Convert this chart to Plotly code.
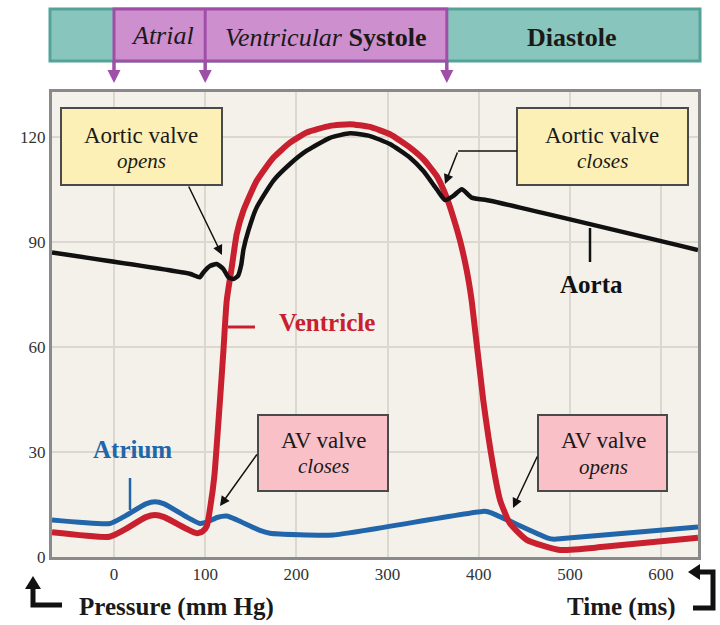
import plotly.graph_objects as go

# ---------------- data ----------------
aorta_t = [-68, 83, 94, 98, 105, 112.6, 119.9, 125.4, 130.9, 136, 139.5, 142, 147.3, 156.5, 174.7,
           193, 211.4, 236.9, 258.9, 280.8, 302.7, 324.7, 339.3, 353.9, 363, 372.2, 381.4, 392.3,
           412.4, 640.5]
aorta_p = [87.1, 81.0, 80.0, 81.4, 83.2, 83.8, 82.4, 80.0, 79.5, 80.4, 83.5, 88.0, 93.3, 100.0, 107.6,
           112.4, 116.2, 119.9, 121.2, 120.4, 118.1, 114.2, 110.4, 105.2, 102.1, 103.3, 105.2, 102.8,
           101.9, 87.8]

ventricle_t = [-68, -5, 10, 35, 45, 55, 80, 90.7, 97, 101.7, 106, 110, 116, 120, 123.6, 129.1,
               134.6, 141.8, 156.5, 174.7, 193, 211.4, 236.9, 258.9, 280.8, 302.7, 324.7, 339.3,
               353.9, 364.9, 372.2, 379.5, 386.9, 392.3, 405, 416, 423.4, 434, 452.6, 489, 537, 640.5]
ventricle_p = [7.1, 5.8, 7.6, 11.4, 12.0, 11.4, 8.0, 6.8, 7.3, 8.8, 15.0, 23.0, 44.0, 59.0, 73.3, 82.8,
               92.4, 99.0, 107.6, 114.2, 118.5, 121.4, 123.3, 123.8, 123.0, 120.9, 117.1, 113.8,
               109.0, 102.8, 97.1, 90.5, 81.9, 73.3, 44.8, 25.8, 16.3, 9.7, 4.9, 2.0, 2.9, 5.5]

atrium_t = [-68, -4.4, 10, 35, 45, 55, 80, 94.3, 104, 113, 123.6, 135, 160, 171, 240.5, 407, 415,
            475, 483, 492, 640.5]
atrium_p = [10.6, 9.6, 11.4, 15.2, 15.8, 15.2, 11.4, 9.6, 10.2, 11.3, 11.7, 10.6, 7.6, 6.8, 6.3, 13.1,
            12.5, 5.5, 5.1, 5.3, 8.6]

x_ticks = [0, 100, 200, 300, 400, 500, 600]
y_ticks = [0, 30, 60, 90, 120]

phase_times = [0, 100, 365]   # atrial systole start, ventricular systole start, diastole start

# ---------------- colours / fonts ----------------
RED = "#C9202F"
BLUE = "#2165AA"
BLACK = "#111111"
PURPLE = "#A04FA8"
PURPLE_FILL = "#CD8FCD"
TEAL = "#88C5BC"
TEAL_LINE = "#55A398"
YELLOW = "#FCF0B6"
PINK = "#F9C0C8"
FONT = "Liberation Serif"

# pixel helpers for decorative layout
L, R, T, B = 52, 698, 92, 557
W_, H_ = 720, 625
def PX(x):
    return (x - L) / (R - L)
def PY(y):
    return (B - y) / (B - T)

X_RANGE = [-68, 640.5]
def XPIX(t):
    return L + (t - X_RANGE[0]) / (X_RANGE[1] - X_RANGE[0]) * (R - L)

fig = go.Figure()
fig.add_trace(go.Scatter(x=atrium_t, y=atrium_p, mode="lines",
                         line=dict(color=BLUE, width=5, shape="spline", smoothing=0.5),
                         hoverinfo="skip"))
fig.add_trace(go.Scatter(x=ventricle_t, y=ventricle_p, mode="lines",
                         line=dict(color=RED, width=6, shape="spline", smoothing=0.5),
                         hoverinfo="skip"))
fig.add_trace(go.Scatter(x=aorta_t, y=aorta_p, mode="lines",
                         line=dict(color=BLACK, width=4.5, shape="spline", smoothing=0.5),
                         hoverinfo="skip"))

shapes = []
def rect(x0, y0, x1, y1, fill, line, lw=2):
    shapes.append(dict(type="rect", xref="paper", yref="paper",
                       x0=PX(x0), x1=PX(x1), y0=PY(y1), y1=PY(y0),
                       fillcolor=fill, line=dict(color=line, width=lw), layer="above"))
def seg(x0, y0, x1, y1, color, lw):
    shapes.append(dict(type="line", xref="paper", yref="paper",
                       x0=PX(x0), x1=PX(x1), y0=PY(y0), y1=PY(y1),
                       line=dict(color=color, width=lw), layer="above"))
def poly(pts, color, lw=0, fill=None):
    d = "M " + " L ".join(f"{PX(a):.5f},{PY(b):.5f}" for a, b in pts)
    if fill:
        d += " Z"
    shapes.append(dict(type="path", xref="paper", yref="paper", path=d,
                       fillcolor=fill if fill else "rgba(0,0,0,0)",
                       line=dict(color=color, width=lw), layer="above"))

# top phase bar
rect(50, 9, 700, 61, TEAL, TEAL_LINE, 3)
p0, p1, p2 = (XPIX(t) for t in phase_times)
rect(p0, 9, p2, 61, PURPLE_FILL, PURPLE, 3)
seg(p1, 9, p1, 61, PURPLE, 3)
for p in (p0, p1, p2):
    seg(p, 61, p, 72, PURPLE, 3.5)
    poly([(p - 6.5, 70), (p + 6.5, 70), (p, 83)], PURPLE, 0, PURPLE)

# annotation boxes
rect(61, 108, 222, 185, YELLOW, "#4a4a4a", 2)
rect(517, 108, 688, 185, YELLOW, "#4a4a4a", 2)
rect(258, 415, 388, 491, PINK, "#4a4a4a", 2)
rect(538, 415, 667, 491, PINK, "#4a4a4a", 2)
# bent leader for "Aortic valve closes"
seg(517, 151, 458, 151, BLACK, 1.6)

# label ticks
seg(130, 478, 130, 510, BLUE, 2.5)
seg(228, 327, 255, 327, RED, 3)
seg(590, 228, 590, 262, BLACK, 2.5)

# bottom bent arrows
poly([(33, 588), (33, 605), (62, 605)], BLACK, 5)
poly([(25, 589), (41, 589), (33, 576)], BLACK, 0, BLACK)
poly([(699, 572), (713, 572), (713, 608), (693, 608)], BLACK, 5)
poly([(700, 564), (700, 580), (688, 572)], BLACK, 0, BLACK)

ann = []
def text(x, y, s, size, color="#1a1a1a"):
    ann.append(dict(xref="paper", yref="paper", x=PX(x), y=PY(y), text=s, showarrow=False,
                    xanchor="center", yanchor="middle",
                    font=dict(family=FONT, size=size, color=color)))
def arrow(tx, ty, hx, hy):
    ann.append(dict(xref="paper", yref="paper", x=PX(hx), y=PY(hy), ax=tx - hx, ay=ty - hy,
                    text="", showarrow=True, arrowhead=2, arrowsize=1.3, arrowwidth=1.5,
                    arrowcolor=BLACK, standoff=0))

text(162, 35, "<i>Atrial</i>", 26)
text(326, 37, "<i>Ventricular</i> <b>Systole</b>", 26)
text(572, 37, "<b>Diastole</b>", 26)

text(141, 135, "Aortic valve", 23)
text(141, 161, "<i>opens</i>", 21)
text(602, 135, "Aortic valve", 23)
text(602, 161, "<i>closes</i>", 21)
text(323, 440, "AV valve", 23)
text(323, 466, "<i>closes</i>", 21)
text(603, 440, "AV valve", 23)
text(603, 467, "<i>opens</i>", 21)

arrow(188, 185, 222, 255)
arrow(458, 151, 445, 184)
arrow(258, 453, 220, 506)
arrow(538, 455, 513, 508)

text(132, 449, "<b>Atrium</b>", 25, BLUE)
text(327, 322, "<b>Ventricle</b>", 25, RED)
text(591, 284, "<b>Aorta</b>", 25, BLACK)

text(176, 607, "<b>Pressure (mm Hg)</b>", 25)
text(621, 607, "<b>Time (ms)</b>", 25)

fig.update_layout(
    width=W_, height=H_,
    margin=dict(l=L, r=W_ - R, t=T, b=H_ - B, pad=0),
    paper_bgcolor="white", plot_bgcolor="#F4F1EA",
    showlegend=False,
    shapes=shapes, annotations=ann,
    font=dict(family=FONT, size=17, color="#333333"),
)
fig.update_xaxes(range=X_RANGE, tickvals=x_ticks, showgrid=True, gridcolor="#DCD8D0", gridwidth=2,
                 zeroline=False, showline=True, linecolor="#8a8a8a", linewidth=3, mirror=True,
                 ticks="", tickfont=dict(family=FONT, size=17, color="#333333"))
fig.update_yaxes(range=[0, 133], tickvals=y_ticks, showgrid=True, gridcolor="#DCD8D0", gridwidth=2,
                 zeroline=False, showline=True, linecolor="#8a8a8a", linewidth=3, mirror=True,
                 ticks="", tickfont=dict(family=FONT, size=17, color="#333333"))

fig.write_html("out.html", config={"displayModeBar": False},
               post_script="document.body.style.margin='0';document.body.style.overflow='hidden';")
